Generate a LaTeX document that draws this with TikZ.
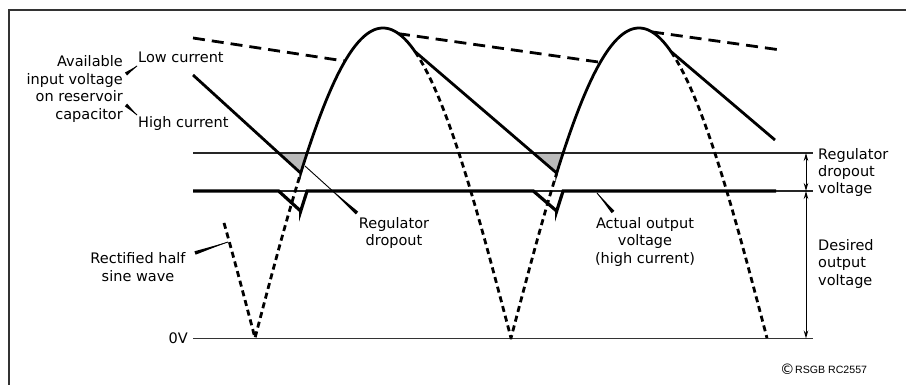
\documentclass[tikz,border=0pt]{standalone}
\usepackage{fontspec}
\setmainfont{DejaVu Sans}
\newfontfamily\cfont{Liberation Sans}
\usetikzlibrary{arrows.meta,calc}
\newcommand\mytaper[3]{\fill ($(#1)!#3!90:(#2)$) -- ($(#1)!#3!-90:(#2)$) -- (#2) -- cycle; \draw[leader] (#1) -- (#2);}
\begin{document}
\begin{tikzpicture}[x=1pt,y=-1pt,
  declare function={sn(\x)=338-310*abs(sin(0.703125*(\x-255)));},
  frame/.style={draw=black!80,line width=1.5pt},
  thinref/.style={line width=1.1pt, draw=black!85},
  curve/.style={line width=2.8pt, line join=miter},
  sinedash/.style={line width=2.8pt, dash pattern=on 6pt off 4pt},
  lowdash/.style={line width=2.8pt, dash pattern=on 12pt off 7pt},
  outline/.style={line width=3.2pt, line join=miter},
  lbl/.style={inner sep=0pt, font=\fontsize{14.5}{17.5}\selectfont},
  dim/.style={line width=1pt, {Stealth[length=8pt,width=4.5pt]}-{Stealth[length=8pt,width=4.5pt]}},
  leader/.style={line width=0.9pt},
  dropfill/.style={fill=black!27}
]
\useasboundingbox (0,0) rectangle (906,385);
% frame
\draw[frame] (9,385) -- (9,10) -- (906,10);

% reference lines
\coordinate (dl) at (193,153); \coordinate (dr) at (813,153);
\coordinate (ol) at (193,191); \coordinate (or) at (813,191);
\coordinate (zl) at (193,338.5); \coordinate (zr) at (813,338.5);

% shaded dropout triangles
\fill[dropfill] (278.6,153) -- (300.7,173.1) -- plot[domain=300.7:307.1,samples=10] (\x,{sn(\x)}) -- cycle;
\fill[dropfill] (533.3,153) -- (556.7,173.1) -- plot[domain=556.7:563.1,samples=10] (\x,{sn(\x)}) -- cycle;

\draw[thinref] (dl) -- (dr);
\draw[thinref] (ol) -- (or);
\draw[line width=1.4pt, draw=black!80] (zl) -- (zr);

% rectified half sine (dashed parts)
\draw[sinedash] plot[domain=224:255,samples=30] (\x,{sn(\x)}) -- plot[domain=255:300.7,samples=40] (\x,{sn(\x)});
\draw[sinedash] plot[domain=415:511,samples=60] (\x,{sn(\x)}) -- plot[domain=511:556.7,samples=40] (\x,{sn(\x)});
\draw[sinedash] plot[domain=671:767,samples=60] (\x,{sn(\x)});

% low current (dashed)
\coordinate (l1a) at (193,38);   \coordinate (l1b) at (345,61.1);
\coordinate (l2a) at (398,33.6); \coordinate (l2b) at (600.3,62.3);
\coordinate (l3a) at (652,31.9); \coordinate (l3b) at (777,49.5);
\draw[lowdash] (l1a) -- (l1b);
\draw[lowdash] (l2a) -- (l2b);
\draw[lowdash] (l3a) -- (l3b);

% high current input (solid)
\coordinate (h1) at (193,75);
\coordinate (h2) at (775,140);
\draw[curve] (h1) -- (300.7,173.1) -- plot[domain=300.7:415,samples=80] (\x,{sn(\x)})
  -- (556.7,173.1) -- plot[domain=556.7:671,samples=80] (\x,{sn(\x)}) -- (h2);

% actual output voltage
\coordinate (o1) at (193,191); \coordinate (o2) at (776,191);
\draw[outline] (o1) -- (278.6,191) -- (300.7,211.1) -- plot[domain=300.7:307.1,samples=10] (\x,{sn(\x)+38})
  -- (533.3,191) -- (556.7,211.1) -- plot[domain=556.7:563.1,samples=10] (\x,{sn(\x)+38}) -- (o2);

% dimension arrows
\coordinate (a1) at (806,153); \coordinate (a2) at (806,191); \coordinate (a3) at (806,338.5);
\draw[dim] (a1) -- (a2);
\draw[dim] (a2) -- (a3);

% labels
\node[lbl, anchor=east, align=right] (avail) at (123,89) {Available\\input voltage\\on reservoir\\capacitor};
\node[lbl, anchor=west] (low) at (138,57) {Low current};
\node[lbl, anchor=west] (high) at (138,124) {High current};
\node[lbl, align=center] (rect) at (138,267) {Rectified half\\sine wave};
\node[lbl, anchor=east] (zero) at (188,338.5) {0V};
\node[lbl, align=center] (regd) at (394,233) {Regulator\\dropout};
\node[lbl, align=center] (act) at (645,242) {Actual output\\voltage\\(high current)};
\node[lbl, anchor=west, align=left] (rdv) at (818,172.5) {Regulator\\dropout\\voltage};
\node[lbl, anchor=west, align=left] (des) at (818,263.5) {Desired\\output\\voltage};
\node[inner sep=0pt, anchor=west, font=\cfont\fontsize{10.6}{13}\selectfont] (copy) at (780,369) {\raisebox{-1.2pt}{\rmfamily\fontsize{14.5}{14.5}\selectfont\textcopyright}\hspace{0.5pt}RSGB RC2557};

% leaders
\coordinate (la1) at (126,74);  \coordinate (la2) at (137,66);
\coordinate (lb1) at (126,105); \coordinate (lb2) at (137,115);
\coordinate (lr1) at (195,253); \coordinate (lr2) at (228,242);
\coordinate (ld1) at (357,213); \coordinate (ld2) at (305,166);
\coordinate (lo1) at (613,212); \coordinate (lo2) at (597,193);
\mytaper{la1}{la2}{1.8pt}
\mytaper{lb1}{lb2}{1.8pt}
\mytaper{lr1}{lr2}{1.8pt}
\fill ($(ld1)!1.8pt!90:(ld2)$) -- ($(ld1)!1.8pt!-90:(ld2)$) -- ($(ld1)!0.5!(ld2)$) -- cycle;
\draw[leader] (ld1) -- (ld2);
\mytaper{lo1}{lo2}{1.8pt}
\end{tikzpicture}
\end{document}
